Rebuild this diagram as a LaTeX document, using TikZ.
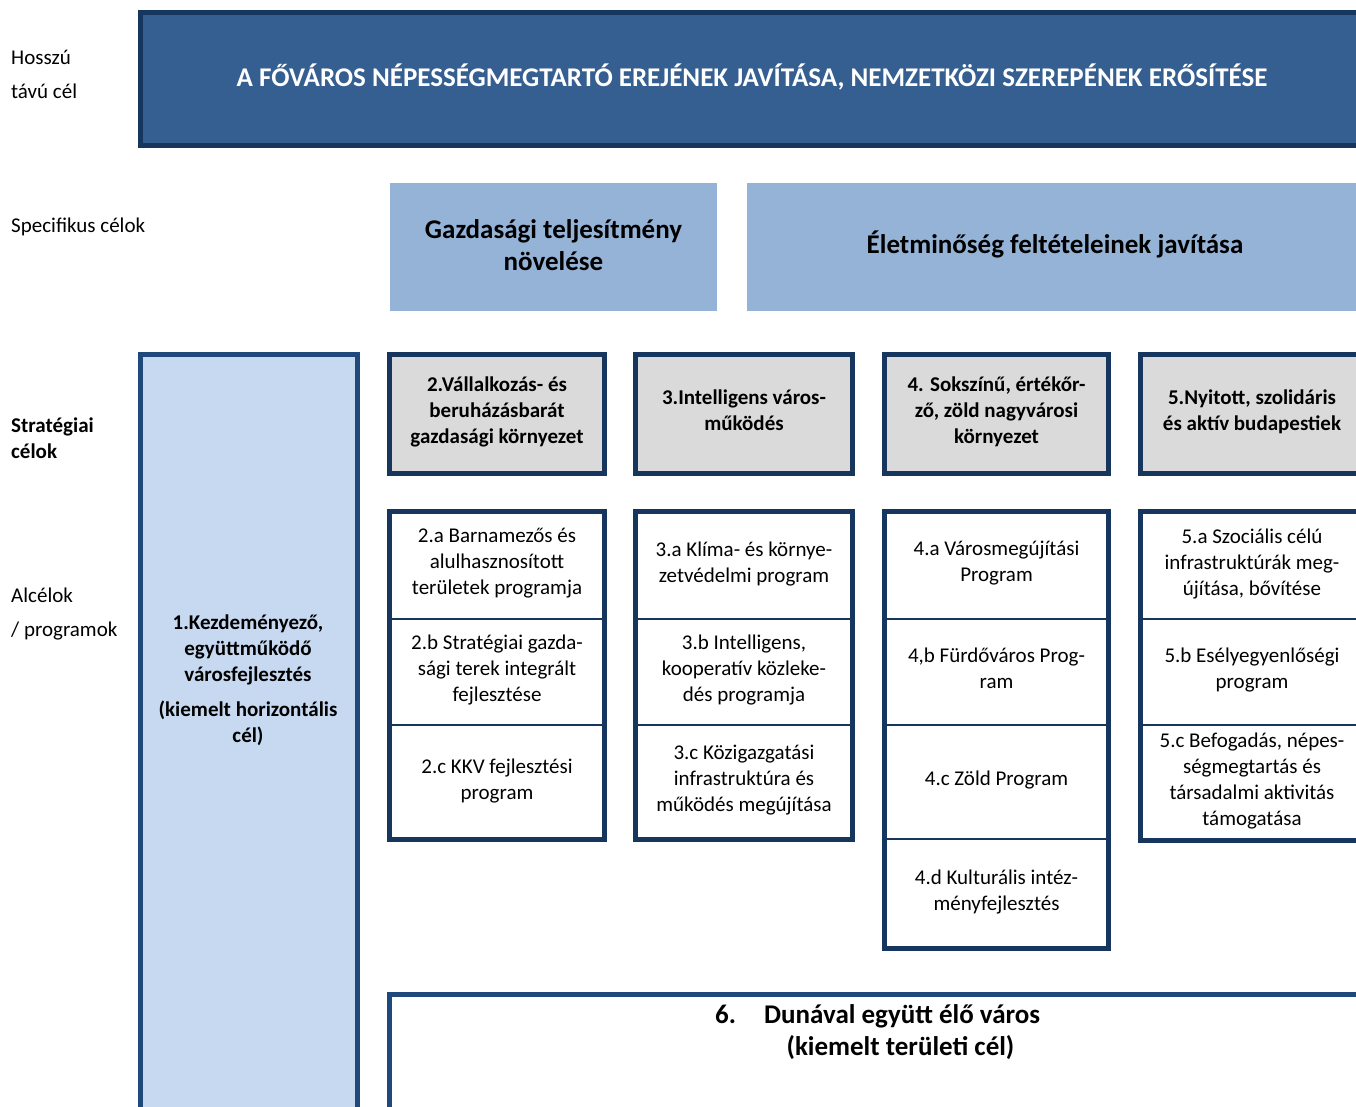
\documentclass[tikz,border=0pt]{standalone}
\usepackage{fontspec}
\setmainfont{Carlito}
\usetikzlibrary{positioning}

\definecolor{navy}{RGB}{23,54,93}
\definecolor{steel}{RGB}{31,73,125}
\definecolor{banner}{RGB}{54,95,145}
\definecolor{specblue}{RGB}{149,179,215}
\definecolor{paleblue}{RGB}{198,217,241}
\definecolor{boxgray}{RGB}{218,218,218}

\tikzset{
	rowlabel/.style={anchor=west, align=left, inner sep=0pt, font=\fontsize{21}{34}\selectfont},
	spec/.style={fill=specblue, align=center, inner sep=0pt, font=\bfseries\fontsize{27}{32}\selectfont},
	goal/.style={draw=navy, line width=5pt, fill=boxgray, align=center, inner sep=0pt, outer sep=0pt, text depth=8pt, minimum height=118.5pt, font=\bfseries\fontsize{21}{26}\selectfont},
	prog/.style={draw=navy, line width=2pt, align=center, inner sep=0pt, outer sep=0pt, text depth=7pt, font=\fontsize{21}{26}\selectfont},
	frame/.style={draw=navy, line width=5pt},
	boldtext/.style={align=center, inner sep=0pt, font=\bfseries\fontsize{21}{26}\selectfont},
	bigtext/.style={inner sep=0pt, font=\bfseries\fontsize{27}{32}\selectfont},
}

\begin{document}
\begin{tikzpicture}[x=1pt, y=-1pt]
	\useasboundingbox (0,0) rectangle (1356,1106);
	\clip (0,0) rectangle (1356,1106);

	% row labels
	\node [rowlabel] (lhossz) at (11,74) {Hosszú\\távú cél};
	\node [rowlabel] (lspec) at (11,227) {Specifikus célok};
	\node [rowlabel, font=\bfseries\fontsize{21}{26}\selectfont] (lstrat) at (11,438) {Stratégiai\\célok};
	\node [rowlabel] (lalcel) at (11,614) {Alcélok\\/ programok};

	% long term goal
	\node [draw=navy, line width=5pt, fill=banner, text=white, minimum width=1223pt, minimum height=133pt, inner sep=0pt,
		text depth=7pt, font=\bfseries\fontsize{27}{32}\selectfont] (main) at (752,79)
		{A FŐVÁROS NÉPESSÉGMEGTARTÓ EREJÉNEK JAVÍTÁSA, NEMZETKÖZI SZEREPÉNEK ERŐSÍTÉSE};

	% specific goals
	\node [spec, minimum width=327pt, minimum height=128pt, text depth=4pt] (s1) at (553.5,247) {Gazdasági teljesítmény\\növelése};
	\node [spec, minimum width=616pt, minimum height=128pt, text depth=9pt] (s2) at (1055,247) {Életminőség feltételeinek javítása};

	% horizontal goal
	\node [draw=steel, line width=5pt, fill=paleblue, minimum width=217pt, minimum height=775pt, inner sep=0pt] (c1) at (249,742) {};
	\node [boldtext] (c1t) at (248,680) {1.Kezdeményező,\\együttműködő\\városfejlesztés\\[9pt](kiemelt horizontális\\cél)};

	% strategic goals
	\node [goal, minimum width=215pt] (g2) at (497,413.75) {2.Vállalkozás- és\\beruházásbarát\\gazdasági környezet};
	\node [goal, minimum width=217pt] (g3) at (744,413.75) {3.Intelligens város-\\működés};
	\node [goal, minimum width=224pt] (g4) at (996.5,413.75) {4. Sokszínű, értékőr-\\ző, zöld nagyvárosi\\környezet};
	\node [goal, minimum width=223pt] (g5) at (1252,413.75) {5.Nyitott, szolidáris\\és aktív budapestiek};

	% programmes 2
	\node [prog, minimum width=215pt, minimum height=107.5pt] (p2a) at (497,565.25) {2.a Barnamezős és\\alulhasznosított\\területek programja};
	\node [prog, minimum width=215pt, minimum height=106pt] (p2b) at (497,672) {2.b Stratégiai gazda-\\sági terek integrált\\fejlesztése};
	\node [prog, minimum width=215pt, minimum height=114.5pt] (p2c) at (497,782.25) {2.c KKV fejlesztési\\program};
	\draw [frame] (p2a.north west) rectangle (p2c.south east);

	% programmes 3
	\node [prog, minimum width=217pt, minimum height=107.5pt] (p3a) at (744,565.25) {3.a Klíma- és környe-\\zetvédelmi program};
	\node [prog, minimum width=217pt, minimum height=106pt] (p3b) at (744,672) {3.b Intelligens,\\kooperatív közleke-\\dés programja};
	\node [prog, minimum width=217pt, minimum height=114.5pt] (p3c) at (744,782.25) {3.c Közigazgatási\\infrastruktúra és\\működés megújítása};
	\draw [frame] (p3a.north west) rectangle (p3c.south east);

	% programmes 4
	\node [prog, minimum width=224pt, minimum height=107.5pt] (p4a) at (996.5,565.25) {4.a Városmegújítási\\Program};
	\node [prog, minimum width=224pt, minimum height=106pt] (p4b) at (996.5,672) {4,b Fürdőváros Prog-\\ram};
	\node [prog, minimum width=224pt, minimum height=113.5pt] (p4c) at (996.5,781.75) {4.c Zöld Program};
	\node [prog, minimum width=224pt, minimum height=109.5pt] (p4d) at (996.5,893.25) {4.d Kulturális intéz-\\ményfejlesztés};
	\draw [frame] (p4a.north west) rectangle (p4d.south east);

	% programmes 5
	\node [prog, minimum width=223pt, minimum height=107.5pt] (p5a) at (1252,565.25) {5.a Szociális célú\\infrastruktúrák meg-\\újítása, bővítése};
	\node [prog, minimum width=223pt, minimum height=106pt] (p5b) at (1252,672) {5.b Esélyegyenlőségi\\program};
	\node [prog, minimum width=223pt, minimum height=115.5pt] (p5c) at (1252,782.75) {5.c Befogadás, népes-\\ségmegtartás és\\társadalmi aktivitás\\támogatása};
	\draw [frame] (p5a.north west) rectangle (p5c.south east);

	% territorial goal
	\node [draw=steel, line width=5pt, minimum width=1030pt, minimum height=140pt, inner sep=0pt] (c6) at (904.5,1064.5) {};
	\node [bigtext, anchor=base west] (c6n) at (715,1023) {6.};
	\node [bigtext, anchor=base west] (c6t) at (764,1023) {Dunával együtt élő város};
	\node [bigtext] (c6s) at (900.5,1048) {(kiemelt területi cél)};
\end{tikzpicture}
\end{document}
